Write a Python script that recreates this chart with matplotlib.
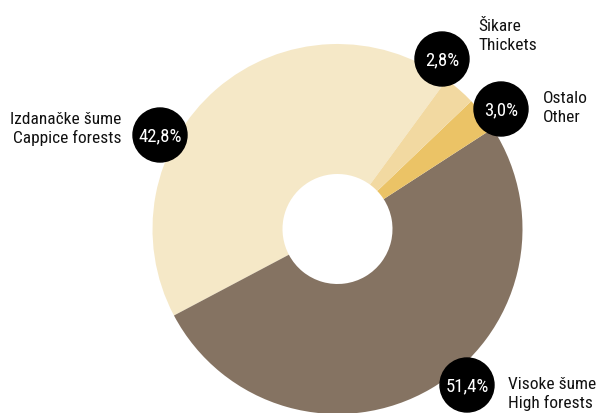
import matplotlib.pyplot as plt
from matplotlib.patches import Circle

# Forest area by type (share of total, %)
labels_hr = ["Izdanačke šume", "Visoke šume", "Ostalo", "Šikare"]
labels_en = ["Cappice forests", "High forests", "Other", "Thickets"]
shares = [42.8, 51.4, 3.0, 2.8]
colors = ["#f5e8c7", "#857362", "#ebc366", "#f2d9a1"]

FONT = ["Roboto Condensed", "DejaVu Sans"]
W, H = 596, 414

fig = plt.figure(figsize=(W / 100, H / 100), dpi=100)
ax = fig.add_axes([0, 0, 1, 1])

cx, cy = 337.5, H - 230
ax.pie(shares, colors=colors, startangle=53.8, counterclock=True,
       center=(cx, cy), radius=185, frame=True,
       wedgeprops=dict(width=130, linewidth=0))
ax.set_xlim(0, W)
ax.set_ylim(0, H)
ax.set_aspect("equal")
ax.axis("off")

# badge position (x, y in px from top) and label placement per slice
badges = [(160, 136), (467, 386), (501, 110), (442, 60)]
text_pos = [(121, 129, "right"), (508, 394, "left"), (543, 108, "left"), (478, 36, "left")]

for i, pct in enumerate(shares):
    bx, by = badges[i]
    ax.add_patch(Circle((bx, H - by), 27, color="black", zorder=5))
    ax.text(bx, H - by, f"{pct:.1f}%".replace(".", ","), color="white",
            ha="center", va="center", fontsize=13.5, family=FONT,
            fontstretch="condensed", zorder=6)
    tx, ty, ha = text_pos[i]
    ax.text(tx, H - ty, f"{labels_hr[i]}\n{labels_en[i]}", ha=ha, va="center",
            fontsize=12.5, family=FONT, fontstretch="condensed",
            color="#111111", linespacing=1.3)

fig.savefig("out.png", dpi=100)
